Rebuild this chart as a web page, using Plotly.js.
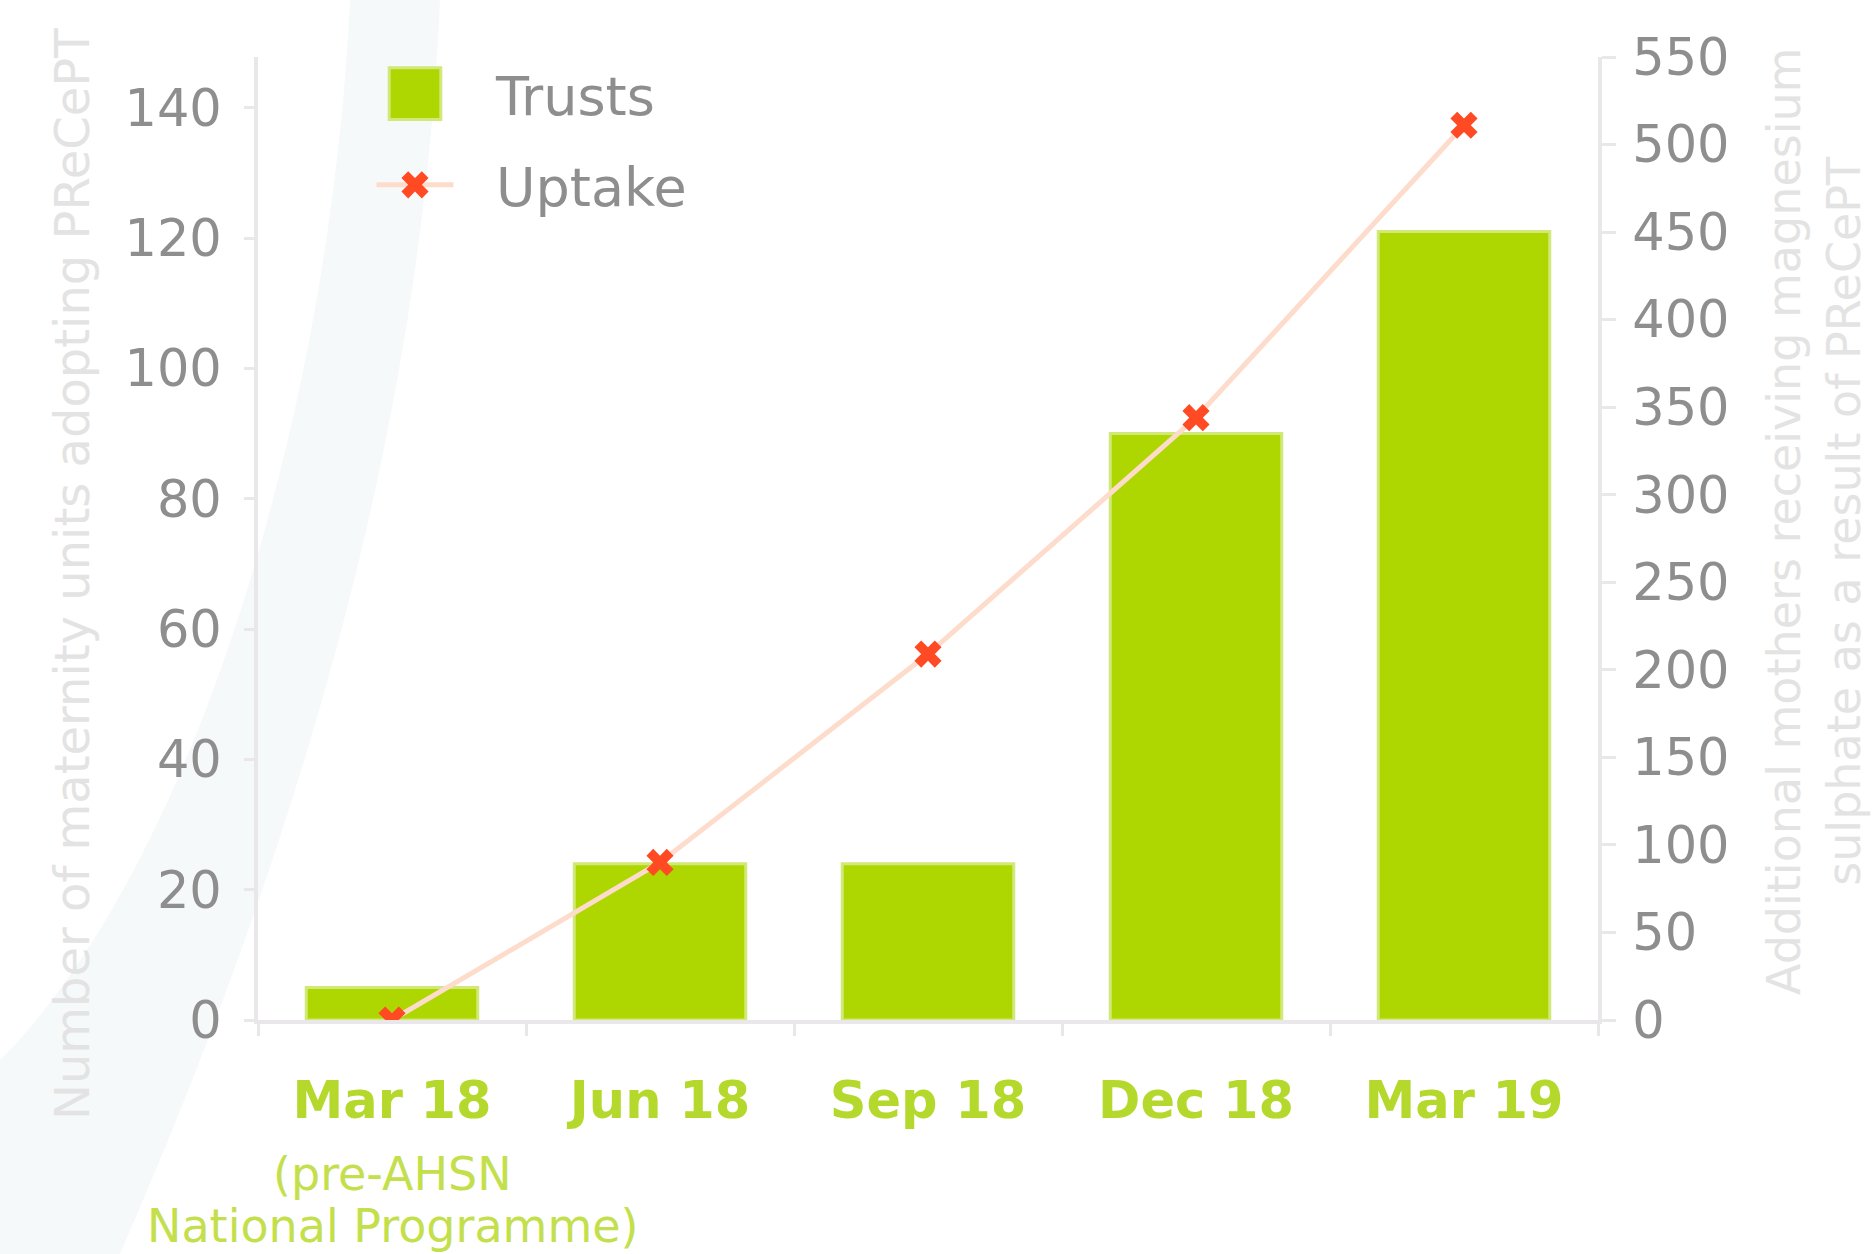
<!DOCTYPE html>
<html>
<head>
<meta charset="utf-8">
<script src="https://cdn.plot.ly/plotly-3.0.1.min.js"></script>
<style>
  html, body { margin: 0; padding: 0; background: #ffffff; }
  #chart { width: 1875px; height: 1254px; }
</style>
</head>
<body>
<div id="chart"></div>
<script>
// ---- data ----
const categories = ['Mar 18', 'Jun 18', 'Sep 18', 'Dec 18', 'Mar 19'];
const trusts = [5, 24, 24, 90, 121];
const uptake = [0, 90, 209, 344, 511];
const leftTickVals = [0, 20, 40, 60, 80, 100, 120, 140];
const rightTickVals = [0, 50, 100, 150, 200, 250, 300, 350, 400, 450, 500, 550];
const seriesNames = ['Trusts', 'Uptake'];
const leftTitle = 'Number of maternity units adopting PReCePT';
const rightTitleLines = ['Additional mothers receiving magnesium', 'sulphate as a result of PReCePT'];
const firstCategoryNote = ['(pre-AHSN', 'National Programme)'];

const FONT = 'DejaVu Sans, Verdana, sans-serif';
const GREEN = '#aed600';
const AXIS = '#e9e7ea';
const TICKTXT = '#8e8e8e';
const TITLETXT = '#e3e3e3';
const LABELGREEN = '#b4d92c';

// pixel -> paper helpers for layout placement
const PL = 258, PR = 1598, PT = 57, PB = 1020;
const px = v => (v - PL) / (PR - PL);
const py = v => (PB - v) / (PB - PT);
const pt = (x, y) => px(x).toFixed(4) + ',' + py(y).toFixed(4);

const traces = [
  {
    type: 'bar', x: categories, y: trusts, name: seriesNames[0], legendgroup: 'g1',
    width: 0.64,
    marker: { color: GREEN, line: { color: '#d2e878', width: 3 } },
    hoverinfo: 'skip'
  },
  {
    type: 'scatter', mode: 'lines+markers', x: categories, y: uptake, yaxis: 'y2',
    name: seriesNames[1], legendgroup: 'g2',
    line: { color: '#fddccc', width: 5 },
    marker: { symbol: 'x', size: 24, color: '#ff4a24', line: { width: 0 } },
    hoverinfo: 'skip'
  }
];

const bandPath = 'M' + pt(350, 0) + ' L' + pt(440, 0) +
  ' C' + pt(425, 350) + ' ' + pt(340, 750) + ' ' + pt(120, 1254) +
  ' L' + pt(0, 1254) + ' L' + pt(0, 1060) +
  ' C' + pt(190, 870) + ' ' + pt(330, 420) + ' ' + pt(350, 0) + ' Z';

const layout = {
  width: 1875, height: 1254, autosize: false,
  margin: { l: PL, r: 1875 - PR, t: PT, b: 1254 - PB, pad: 0 },
  paper_bgcolor: '#ffffff',
  plot_bgcolor: 'rgba(0,0,0,0)',
  font: { family: FONT, color: TICKTXT },
  showlegend: true,
  legend: {
    x: px(376), y: py(52), xanchor: 'left', yanchor: 'top',
    bgcolor: 'rgba(0,0,0,0)', borderwidth: 0,
    font: { family: FONT, size: 54, color: TICKTXT },
    itemwidth: 110, tracegroupgap: 18
  },
  xaxis: {
    type: 'category', range: [-0.5, 4.5],
    tickvals: categories, ticktext: categories.map(c => '<b>' + c + '</b>'),
    tickfont: { family: FONT, size: 51, color: LABELGREEN },
    showline: true, linecolor: AXIS, linewidth: 4,
    ticks: 'outside', tickson: 'boundaries', ticklen: 12, tickwidth: 3, tickcolor: AXIS,
    ticklabelstandoff: 33,
    showgrid: false, zeroline: false, fixedrange: true
  },
  yaxis: {
    range: [0, 147.8], tickvals: leftTickVals,
    tickfont: { family: FONT, size: 51, color: TICKTXT },
    showline: true, linecolor: AXIS, linewidth: 4,
    ticks: 'outside', ticklen: 10, tickwidth: 3, tickcolor: AXIS,
    ticklabelstandoff: 12,
    showgrid: false, zeroline: false, fixedrange: true
  },
  yaxis2: {
    overlaying: 'y', side: 'right', range: [0, 550], tickvals: rightTickVals,
    tickfont: { family: FONT, size: 51, color: TICKTXT },
    showline: true, linecolor: AXIS, linewidth: 4,
    ticks: 'outside', ticklen: 14, tickwidth: 3, tickcolor: AXIS,
    ticklabelstandoff: 6,
    showgrid: false, zeroline: false, fixedrange: true
  },
  shapes: [
    { type: 'path', xref: 'paper', yref: 'paper', layer: 'below',
      path: bandPath, fillcolor: '#f6f9fa', line: { width: 0 } }
  ],
  annotations: [
    { xref: 'paper', yref: 'paper', x: px(72), y: py(574), text: leftTitle,
      textangle: -90, showarrow: false, xanchor: 'center', yanchor: 'middle',
      font: { family: FONT, size: 48, color: TITLETXT } },
    { xref: 'paper', yref: 'paper', x: px(1814), y: py(522), text: rightTitleLines.join('<br>'),
      textangle: -90, showarrow: false, xanchor: 'center', yanchor: 'middle',
      font: { family: FONT, size: 46, color: TITLETXT } },
    { xref: 'x', yref: 'paper', x: categories[0], y: py(1174), text: firstCategoryNote[0],
      showarrow: false, xanchor: 'center', yanchor: 'middle',
      font: { family: FONT, size: 46, color: '#c3e04c' } },
    { xref: 'x', yref: 'paper', x: categories[0], y: py(1226), text: firstCategoryNote[1],
      showarrow: false, xanchor: 'center', yanchor: 'middle',
      font: { family: FONT, size: 46, color: '#c3e04c' } }
  ]
};

function enlargeLegend(gd) {
  gd.querySelectorAll('.legend .traces').forEach(tr => {
    const txt = tr.querySelector('.legendtext');
    if (!txt) return;
    const name = txt.textContent;
    const tx = parseFloat(txt.getAttribute('x')) || 40;
    const center = tx - 81;
    tr.querySelectorAll('path').forEach(p => {
      p.setAttribute('vector-effect', 'non-scaling-stroke');
      if (p.closest('.legendlines')) {
        const bb = p.getBBox();
        const c0 = bb.x + bb.width / 2;
        const k = 77 / Math.max(bb.width, 1);
        p.setAttribute('transform', `translate(${center},0) scale(${k},1) translate(${-c0},0)`);
      } else {
        const s = name === seriesNames[0] ? 4.3 : 1.5;
        p.setAttribute('transform', `translate(${center},0) scale(${s})`);
      }
    });
  });
}

Plotly.newPlot('chart', traces, layout, { displayModeBar: false, staticPlot: true })
  .then(gd => enlargeLegend(gd));
</script>
</body>
</html>
